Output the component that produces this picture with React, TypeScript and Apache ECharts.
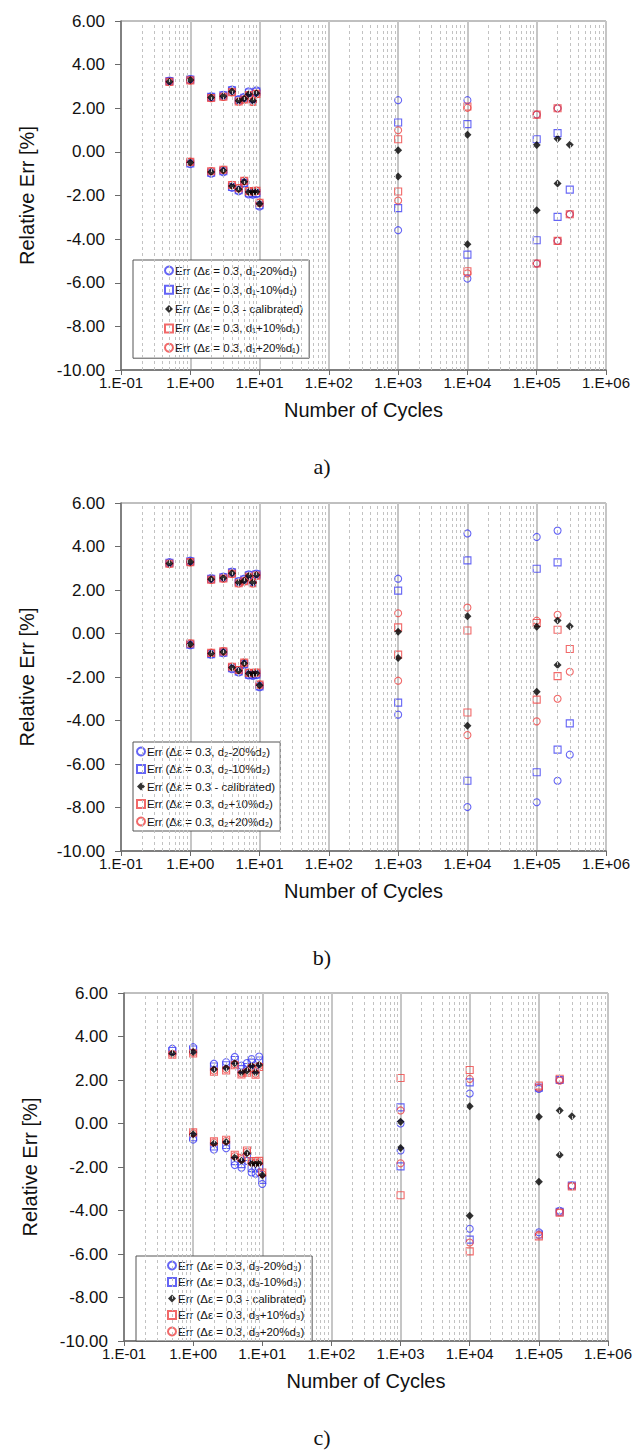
import { useEffect, useRef } from "react";
import * as echarts from "echarts";

// ---------- data ----------
const X_UP = [0.5, 1, 2, 3, 4, 5, 6, 7, 8, 9, 1e3, 1e4, 1e5, 2e5, 3e5];
const X_LO = [1, 2, 3, 4, 5, 6, 7, 8, 9, 10, 1e3, 1e4, 1e5, 2e5];

const CAL_UP = [3.22, 3.29, 2.49, 2.55, 2.77, 2.34, 2.43, 2.64, 2.34, 2.69, 0.08, 0.79, 0.31, 0.6, 0.33];
const CAL_LO = [-0.49, -0.92, -0.85, -1.56, -1.71, -1.37, -1.84, -1.86, -1.83, -2.38, -1.13, -4.24, -2.68, -1.45];

const A_M20_UP = [3.27, 3.34, 2.55, 2.62, 2.86, 2.42, 2.52, 2.78, 2.44, 2.82, 2.37, 2.37, 1.71, 2.0, -2.86];
const A_M20_LO = [-0.56, -1.0, -0.93, -1.65, -1.8, -1.46, -1.95, -1.97, -1.94, -2.5, -3.59, -5.81, -5.12, -4.08];
const A_M10_UP = [3.25, 3.32, 2.52, 2.59, 2.82, 2.38, 2.48, 2.72, 2.4, 2.76, 1.35, 1.27, 0.58, 0.86, -1.73];
const A_M10_LO = [-0.53, -0.96, -0.89, -1.61, -1.76, -1.42, -1.9, -1.92, -1.89, -2.45, -2.58, -4.71, -4.05, -2.98];
const A_P10_UP = [3.21, 3.28, 2.47, 2.53, 2.74, 2.31, 2.4, 2.6, 2.3, 2.66, 0.58, 2.08, 1.71, 2.0, -2.86];
const A_P10_LO = [-0.46, -0.89, -0.82, -1.52, -1.67, -1.33, -1.8, -1.82, -1.79, -2.33, -1.82, -5.47, -5.12, -4.08];
const A_P20_UP = [3.2, 3.27, 2.46, 2.52, 2.73, 2.3, 2.39, 2.59, 2.29, 2.64, 0.99, 2.02, 1.71, 2.0, -2.86];
const A_P20_LO = [-0.45, -0.88, -0.81, -1.51, -1.66, -1.32, -1.79, -1.81, -1.78, -2.32, -2.23, -5.57, -5.12, -4.08];

const B_M20_UP = [3.28, 3.35, 2.55, 2.62, 2.85, 2.41, 2.52, 2.72, 2.4, 2.76, 2.52, 4.6, 4.44, 4.73, -5.57];
const B_M20_LO = [-0.54, -0.98, -0.91, -1.64, -1.79, -1.45, -1.93, -1.95, -1.92, -2.47, -3.73, -7.98, -7.76, -6.77];
const B_M10_UP = [3.25, 3.32, 2.52, 2.58, 2.81, 2.38, 2.48, 2.68, 2.37, 2.72, 1.97, 3.36, 2.98, 3.27, -4.13];
const B_M10_LO = [-0.51, -0.95, -0.88, -1.6, -1.75, -1.41, -1.89, -1.91, -1.88, -2.43, -3.18, -6.77, -6.38, -5.34];
const B_P10_UP = [3.21, 3.28, 2.47, 2.53, 2.75, 2.31, 2.4, 2.61, 2.31, 2.66, 0.28, 0.14, 0.48, 0.17, -0.71];
const B_P10_LO = [-0.46, -0.89, -0.82, -1.53, -1.68, -1.34, -1.81, -1.83, -1.8, -2.35, -0.97, -3.63, -3.04, -1.96];
const B_P20_UP = [3.2, 3.27, 2.46, 2.52, 2.74, 2.3, 2.39, 2.6, 2.3, 2.65, 0.93, 1.19, 0.59, 0.86, -1.76];
const B_P20_LO = [-0.45, -0.88, -0.81, -1.52, -1.67, -1.33, -1.8, -1.82, -1.79, -2.34, -2.17, -4.67, -4.04, -3.0];

const C_M20_UP = [3.44, 3.51, 2.75, 2.82, 3.06, 2.66, 2.78, 2.96, 2.66, 3.08, 0.0, 1.38, 1.59, 2.0, -2.85];
const C_M20_LO = [-0.74, -1.2, -1.14, -1.91, -2.03, -1.72, -2.25, -2.31, -2.25, -2.78, -1.24, -4.84, -5.0, -4.01];
const C_M10_UP = [3.33, 3.4, 2.62, 2.68, 2.92, 2.5, 2.6, 2.8, 2.5, 2.9, 0.74, 1.89, 1.65, 2.0, -2.85];
const C_M10_LO = [-0.63, -1.06, -0.99, -1.73, -1.87, -1.54, -2.05, -2.08, -2.04, -2.59, -1.97, -5.34, -5.1, -4.06];
const C_P10_UP = [3.16, 3.22, 2.38, 2.44, 2.68, 2.25, 2.33, 2.55, 2.24, 2.6, 2.09, 2.46, 1.74, 2.06, -2.9];
const C_P10_LO = [-0.41, -0.82, -0.75, -1.44, -1.58, -1.24, -1.73, -1.75, -1.72, -2.25, -3.3, -5.88, -5.19, -4.1];
const C_P20_UP = [3.19, 3.26, 2.43, 2.49, 2.73, 2.3, 2.38, 2.6, 2.29, 2.65, 0.6, 2.05, 1.65, 1.97, -2.88];
const C_P20_LO = [-0.45, -0.87, -0.8, -1.5, -1.64, -1.3, -1.79, -1.81, -1.78, -2.32, -1.83, -5.47, -5.12, -4.08];

const CAL_NAME = "Err (Δε = 0.3 - calibrated)";
const SUBS = ["₁", "₂", "₃"];
const VARIANTS = ["-20%", "-10%", "+10%", "+20%"];
const CAPTIONS = ["a)", "b)", "c)"];
const X_MIN = 0.1;
const X_MAX = 1e6;
const Y_MIN = -10;
const Y_MAX = 6;
const Y_STEP = 2;
const MINOR_MULT = [2, 3, 4, 5, 6, 7, 8, 9];
const DECADES = [0.1, 1, 10, 100, 1e3, 1e4, 1e5];

const CHART_DATA = [
  [[A_M20_UP, A_M20_LO], [A_M10_UP, A_M10_LO], [CAL_UP, CAL_LO], [A_P10_UP, A_P10_LO], [A_P20_UP, A_P20_LO]],
  [[B_M20_UP, B_M20_LO], [B_M10_UP, B_M10_LO], [CAL_UP, CAL_LO], [B_P10_UP, B_P10_LO], [B_P20_UP, B_P20_LO]],
  [[C_M20_UP, C_M20_LO], [C_M10_UP, C_M10_LO], [CAL_UP, CAL_LO], [C_P10_UP, C_P10_LO], [C_P20_UP, C_P20_LO]],
];

// ---------- styles / layout ----------
const FONT = "'Liberation Sans', Arial, sans-serif";
const SERIF = "'Liberation Serif', 'Times New Roman', serif";
const BLUE = "#3f3ff2";
const RED = "#ee4444";
const STYLES = [
  { symbol: "circle", color: BLUE, size: 7, filled: false },
  { symbol: "rect", color: BLUE, size: 7, filled: false },
  { symbol: "diamond", color: "#000", size: 8, filled: true },
  { symbol: "rect", color: RED, size: 7, filled: false },
  { symbol: "circle", color: RED, size: 7, filled: false },
];
const GRIDS = [
  { left: 121, top: 21, width: 485, height: 349 },
  { left: 121, top: 503, width: 485, height: 348 },
  { left: 124, top: 993, width: 484, height: 348 },
];
const LEGENDS = [
  { left: 133, top: 260, padding: [4, 6, 4, 31], itemGap: 6.3 },
  { left: 133, top: 742, padding: [3, 5, 3, 3], itemGap: 4.5 },
  { left: 136, top: 1256, padding: [3, 6, 3, 31], itemGap: 3.5 },
];
const CAPTION_Y = [466, 957, 1437];

function fmtX(v: number) {
  const e = Math.round(Math.log10(v));
  const a = Math.abs(e);
  return "1.E" + (e < 0 ? "-" : "+") + (a < 10 ? "0" : "") + a;
}

function seriesName(chart: number, idx: number) {
  if (idx === 2) return CAL_NAME;
  const v = VARIANTS[idx > 2 ? idx - 1 : idx];
  const s = SUBS[chart];
  return `Err (Δε = 0.3, d${s}${v}d${s})`;
}

function buildOption() {
  const grid: any[] = [];
  const xAxis: any[] = [];
  const yAxis: any[] = [];
  const series: any[] = [];
  const legend: any[] = [];
  const graphic: any[] = [];
  const minorX: number[] = [];
  DECADES.forEach((d) => MINOR_MULT.forEach((m) => minorX.push(d * m)));

  for (let c = 0; c < 3; c++) {
    grid.push({
      ...GRIDS[c],
      show: true,
      borderColor: "#808080",
      borderWidth: 1,
      backgroundColor: "transparent",
      containLabel: false,
    });
    xAxis.push({
      type: "log",
      logBase: 10,
      gridIndex: c,
      min: X_MIN,
      max: X_MAX,
      splitNumber: 7,
      axisLine: { show: true, onZero: false, lineStyle: { color: "#6a6a6a", width: 1.5 } },
      axisTick: { show: true, inside: false, length: 5, lineStyle: { color: "#6a6a6a" } },
      axisLabel: {
        formatter: fmtX,
        fontFamily: FONT,
        fontSize: 15,
        color: "#111",
        margin: 5,
        showMinLabel: true,
        showMaxLabel: true,
      },
      splitLine: { show: true, lineStyle: { color: "#c6c6c6", width: 2, type: "solid" } },
      name: "Number of Cycles",
      nameLocation: "middle",
      nameGap: 30,
      nameTextStyle: { fontFamily: FONT, fontSize: 20, color: "#111" },
    });
    yAxis.push({
      type: "value",
      gridIndex: c,
      min: Y_MIN,
      max: Y_MAX,
      interval: Y_STEP,
      axisLine: { show: true, onZero: false, lineStyle: { color: "#6a6a6a", width: 1.5 } },
      axisTick: { show: true, inside: false, length: 6, lineStyle: { color: "#6a6a6a" } },
      axisLabel: {
        formatter: (v: number) => v.toFixed(2),
        fontFamily: FONT,
        fontSize: 17,
        color: "#111",
        margin: 16,
      },
      splitLine: { show: false },
      name: "Relative Err [%]",
      nameLocation: "middle",
      nameGap: 84,
      nameTextStyle: { fontFamily: FONT, fontSize: 20, color: "#111" },
    });

    // minor dashed log grid lines
    series.push({
      type: "scatter",
      name: "__minor" + c,
      xAxisIndex: c,
      yAxisIndex: c,
      data: [],
      z: 1,
      silent: true,
      markLine: {
        silent: true,
        symbol: ["none", "none"],
        label: { show: false },
        animation: false,
        lineStyle: { color: "#c2c2c2", width: 1, type: [3, 3] },
        data: minorX.map((x) => ({ xAxis: x })),
      },
    });

    const names: string[] = [];
    CHART_DATA[c].forEach((pair, i) => {
      const st = STYLES[i];
      const name = seriesName(c, i);
      names.push(name);
      const data: number[][] = [];
      pair[0].forEach((y, k) => data.push([X_UP[k], y]));
      pair[1].forEach((y, k) => data.push([X_LO[k], y]));
      series.push({
        type: "scatter",
        name,
        xAxisIndex: c,
        yAxisIndex: c,
        symbol: st.symbol,
        symbolSize: st.size,
        z: st.filled ? 4 : 3,
        itemStyle: st.filled
          ? { color: st.color, borderWidth: 0 }
          : { color: "rgba(0,0,0,0)", borderColor: st.color, borderWidth: 1.1 },
        data,
      });
    });

    legend.push({
      show: true,
      orient: "vertical",
      left: LEGENDS[c].left,
      top: LEGENDS[c].top,
      padding: LEGENDS[c].padding,
      itemGap: LEGENDS[c].itemGap,
      itemWidth: 8,
      itemHeight: 8,
      backgroundColor: "#fff",
      borderColor: "#555",
      borderWidth: 1,
      borderRadius: 0,
      selectedMode: false,
      data: names,
      textStyle: { fontFamily: FONT, fontSize: 11.5, color: "#111", lineHeight: 13, padding: [0, 0, 0, -3] },
    });

    graphic.push({
      type: "text",
      x: 322,
      y: CAPTION_Y[c],
      style: {
        text: CAPTIONS[c],
        fontFamily: SERIF,
        fontSize: 22,
        fill: "#111",
        textAlign: "center",
        textVerticalAlign: "middle",
      },
    });
  }

  return {
    animation: false,
    backgroundColor: "#fff",
    grid,
    xAxis,
    yAxis,
    series,
    legend,
    graphic,
  };
}

export default function App() {
  const ref = useRef<HTMLDivElement>(null);
  useEffect(() => {
    if (!ref.current) return;
    const chart = echarts.init(ref.current, undefined, { renderer: "svg" });
    chart.setOption(buildOption() as any);
    return () => chart.dispose();
  }, []);
  return (
    <div
      ref={ref}
      style={{ position: "absolute", left: 0, top: 0, width: 644, height: 1452, background: "#fff" }}
    />
  );
}
